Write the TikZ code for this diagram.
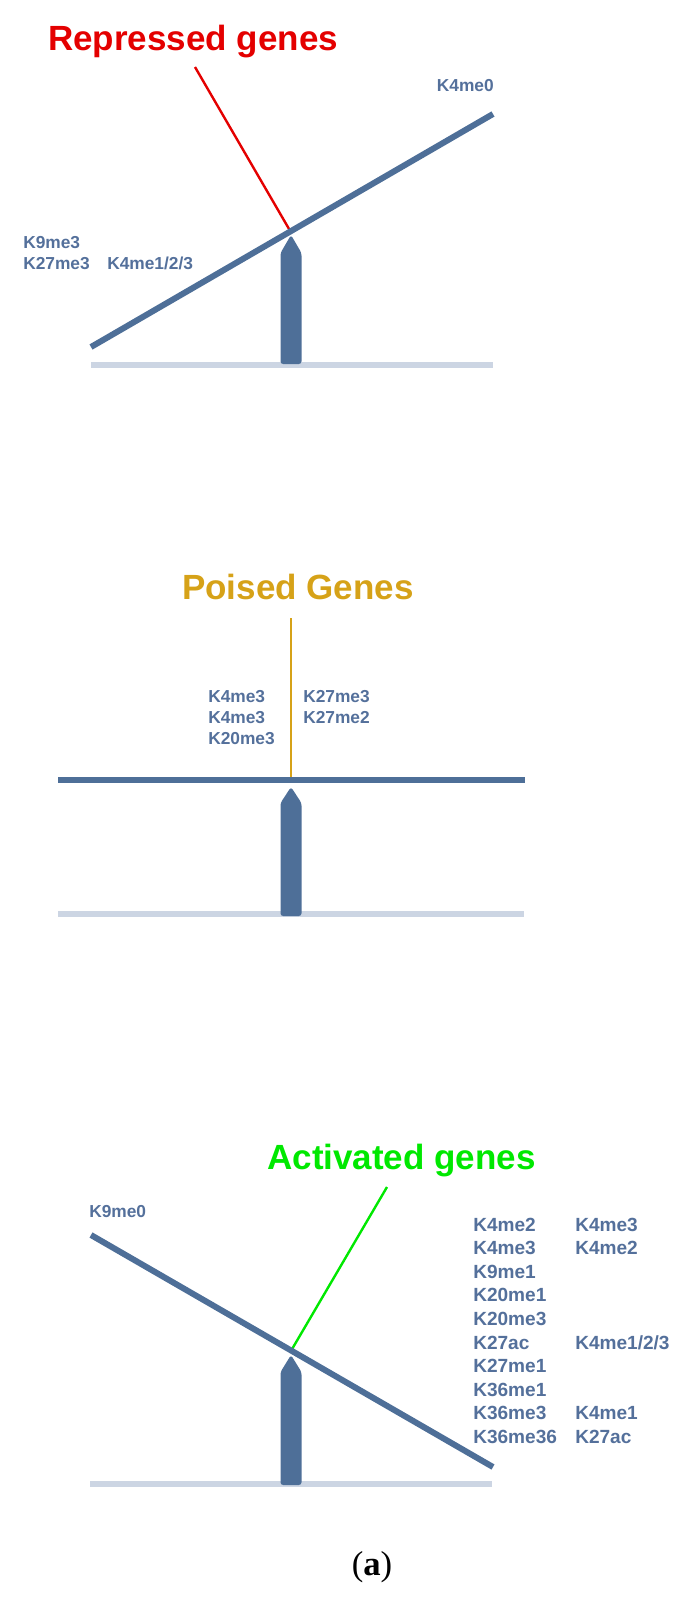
\documentclass[tikz,border=0pt]{standalone}
\usepackage{fontspec}
\setmainfont{Liberation Sans}
\newfontfamily\serfont{Liberation Serif}
\usepackage{xcolor}
\usepackage{tikz}
\usetikzlibrary{positioning,calc}

\definecolor{barblue}{RGB}{78,111,152}
\definecolor{lblblue}{RGB}{84,112,155}
\definecolor{groundgray}{RGB}{204,213,227}
\definecolor{repred}{RGB}{228,0,0}
\definecolor{poigold}{RGB}{214,162,24}
\definecolor{actgreen}{RGB}{0,232,0}

\tikzset{
    beam/.style={draw=barblue, line width=4.5pt},
    ground/.style={draw=groundgray, line width=5pt},
    pillar/.style={fill=barblue, rounded corners=2pt},
    pointer/.style={line width=1.8pt},
    title/.style={anchor=base west, inner sep=0pt, font=\fontsize{26.25}{30}\selectfont\bfseries},
    lbl/.style={anchor=base west, inner sep=0pt, text=lblblue, font=\fontsize{13}{16}\selectfont\bfseries},
    lblbig/.style={anchor=base west, inner sep=0pt, text=lblblue, font=\fontsize{14.3}{18}\selectfont\bfseries}
}

\begin{document}
\begin{tikzpicture}[x=0.75pt, y=-0.75pt]
    \useasboundingbox (0,0) rectangle (688,1603);

    % Repressed genes (top)
    \node[title, text=repred] (repTitle) at (48,50) {Repressed genes};
    \coordinate (repTail) at (195,67);
    \coordinate (repPivot) at (290.5,231.5);
    \draw[ground] (91,365) -- (493,365);
    \fill[pillar] (291,235) -- (301.5,253) -- (301.5,364) -- (280.5,364) -- (280.5,253) -- cycle;
    \draw[pointer, draw=repred] (repTail) -- (repPivot);
    \draw[beam] (91,347) -- (493,114);
    \node[lbl] (repK9) at (23,248) {K9me3};
    \node[lbl] (repK27) at (23,269) {K27me3};
    \node[lbl] (repK4low) at (107,269) {K4me1/2/3};
    \node[lbl, anchor=base east] (repK4zero) at (494,91) {K4me0};

    % Poised genes (middle)
    \node[title, text=poigold] (poiTitle) at (182,599) {Poised Genes};
    \coordinate (poiTail) at (291,618);
    \coordinate (poiPivot) at (291,780);
    \draw[ground] (58,914) -- (524,914);
    \fill[pillar] (291,787) -- (301.5,803) -- (301.5,916) -- (280.5,916) -- (280.5,803) -- cycle;
    \draw[pointer, line width=1.6pt, draw=poigold] (poiTail) -- (poiPivot);
    \draw[beam] (58,780) -- (525,780);
    \node[lbl] (poiL1) at (208,702) {K4me3};
    \node[lbl] (poiL2) at (208,723) {K4me3};
    \node[lbl] (poiL3) at (208,744) {K20me3};
    \node[lbl] (poiR1) at (303,702) {K27me3};
    \node[lbl] (poiR2) at (303,723) {K27me2};

    % Activated genes (bottom)
    \node[title, text=actgreen] (actTitle) at (267,1169) {Activated genes};
    \coordinate (actTail) at (387,1187);
    \coordinate (actPivot) at (291.5,1350);
    \draw[ground] (90,1484) -- (492,1484);
    \fill[pillar] (291,1355) -- (301.5,1372) -- (301.5,1485) -- (280.5,1485) -- (280.5,1372) -- cycle;
    \draw[pointer, draw=actgreen] (actTail) -- (actPivot);
    \draw[beam] (91,1235) -- (493,1467);
    \node[lbl] (actK9) at (89,1217) {K9me0};
    \foreach \t [count=\i] in {K4me2,K4me3,K9me1,K20me1,K20me3,K27ac,K27me1,K36me1,K36me3,K36me36}
        \node[lblbig] (actA\i) at (473,{1231+23.6*(\i-1)}) {\t};
    \foreach \r/\t in {1/K4me3,2/K4me2,6/{K4me1/2/3},9/K4me1,10/K27ac}
        \node[lblbig] (actB\r) at (575,{1231+23.6*(\r-1)}) {\t};

    % caption
    \node[inner sep=0pt, font=\serfont\fontsize{26}{30}\selectfont] (caption) at (372,1567) {(\textbf{a})};
\end{tikzpicture}
\end{document}
